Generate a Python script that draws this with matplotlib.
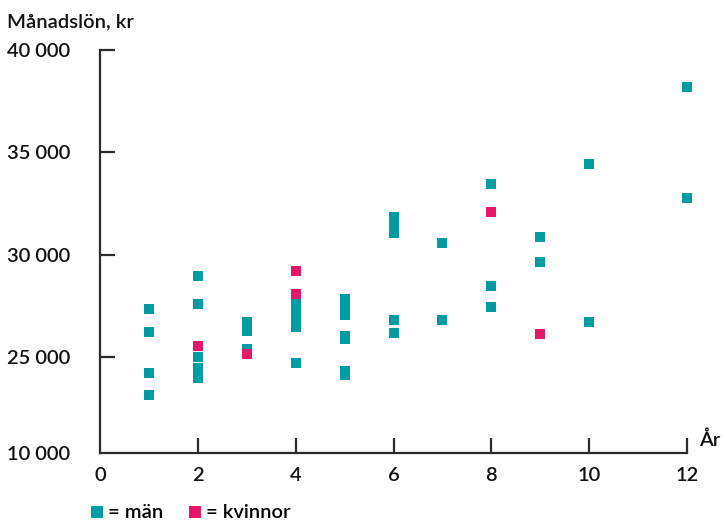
import matplotlib.pyplot as plt

# Years of employment and monthly salary (kr)
men_years = [1, 1, 1, 1,
             2, 2, 2, 2, 2,
             3, 3, 3,
             4, 4, 4, 4, 4,
             5, 5, 5, 5, 5, 5, 5,
             6, 6, 6, 6, 6,
             7, 7,
             8, 8, 8,
             9, 9,
             10, 10,
             12, 12]
men_salary = [27370, 26200, 24200, 23130,
              28980, 27610, 24980, 24450, 23960,
              26690, 26250, 25370,
              27700, 27250, 26850, 26450, 24690,
              27810, 27420, 27030, 26050, 25860, 24300, 24110,
              31850, 31460, 31070, 26790, 26150,
              30580, 26790,
              33460, 28490, 27420,
              30880, 29660,
              34430, 26690,
              38180, 32780]

women_years = [2, 3, 4, 4, 8, 9]
women_salary = [25520, 25130, 29220, 28070, 32090, 26100]

ytick_vals = [20310, 25000, 30000, 35000, 40000]
ytick_labels = ['10 000', '25 000', '30 000', '35 000', '40 000']
xtick_vals = [0, 2, 4, 6, 8, 10, 12]

teal = '#009ca6'
pink = '#e5176a'
dark = '#2b2b2b'

plt.rcParams['font.family'] = ['Lato', 'DejaVu Sans']
fs = 14.5
fw = 'semibold'

fig = plt.figure(figsize=(7.25, 5.22), dpi=100)
ax = fig.add_axes([100 / 725, 1 - 453 / 522, 587 / 725, 403 / 522])

men = ax.scatter(men_years, men_salary, marker='s', s=54, color=teal,
                 linewidths=0, label='= män', zorder=3, clip_on=False)
women = ax.scatter(women_years, women_salary, marker='s', s=54, color=pink,
                   linewidths=0, label='= kvinnor', zorder=4, clip_on=False)

ax.set_xlim(0, 12)
ax.set_ylim(20310, 40000)

for side in ['top', 'right']:
    ax.spines[side].set_visible(False)
for side in ['left', 'bottom']:
    ax.spines[side].set_color(dark)
    ax.spines[side].set_linewidth(1.6)

ax.set_yticks(ytick_vals)
ax.set_yticklabels(ytick_labels)
ax.set_xticks(xtick_vals)
ax.tick_params(axis='y', direction='in', length=11, width=1.6, color=dark,
               pad=67, labelsize=fs, labelcolor='#111111')
ax.tick_params(axis='x', direction='in', length=11, width=1.6, color=dark,
               pad=10, labelsize=fs, labelcolor='#111111')
for lbl in ax.get_yticklabels():
    lbl.set_horizontalalignment('left')
    lbl.set_fontweight(fw)
for lbl in ax.get_xticklabels():
    lbl.set_fontweight(fw)

# no tick marks at the corner
ax.yaxis.get_major_ticks()[0].tick1line.set_visible(False)
ax.xaxis.get_major_ticks()[0].tick1line.set_visible(False)

fig.text(7 / 725, 1 - 22 / 522, 'Månadslön, kr', fontsize=fs, va='center',
         ha='left', color='#111111', fontweight=fw)
fig.text(699 / 725, 1 - 440 / 522, 'År', fontsize=fs, va='center',
         ha='left', color='#111111', fontweight=fw)

fig.legend(handles=[men, women], loc='center left',
           bbox_to_anchor=(92 / 725, 1 - 512 / 522), ncol=2, frameon=False,
           handlelength=0.5, handletextpad=0.3, columnspacing=1.3,
           borderaxespad=0, borderpad=0, prop={'size': fs, 'weight': fw},
           markerscale=1.1)

fig.savefig('out.png', dpi=100)
